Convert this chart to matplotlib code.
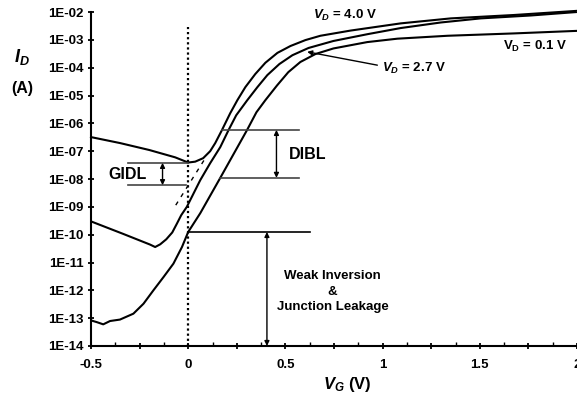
import matplotlib
matplotlib.use("Agg")
import matplotlib.pyplot as plt

plt.rcParams['font.family'] = ['Liberation Sans', 'DejaVu Sans']
plt.rcParams['font.weight'] = 'bold'
plt.rcParams['mathtext.fontset'] = 'custom'
plt.rcParams['mathtext.rm'] = 'Liberation Sans:bold'
plt.rcParams['mathtext.it'] = 'Liberation Sans:italic:bold'
plt.rcParams['mathtext.bf'] = 'Liberation Sans:bold'

# Id-Vg curves
vg_40 = [-0.50, -0.35, -0.20, -0.067, 0.0, 0.036, 0.077, 0.113, 0.139, 0.174,
         0.216, 0.253, 0.294, 0.345, 0.397, 0.459, 0.526, 0.603, 0.680, 0.835,
         1.093, 1.351, 1.675, 2.0]
id_40 = [3.2e-7, 1.95e-7, 1.1e-7, 6.0e-8, 3.9e-8, 4.2e-8, 5.6e-8, 1.0e-7, 1.95e-7, 5.8e-7,
         2.3e-6, 6.8e-6, 2.0e-5, 5.9e-5, 1.5e-4, 3.4e-4, 6.0e-4, 9.8e-4, 1.4e-3, 2.15e-3,
         3.9e-3, 5.9e-3, 7.8e-3, 1.1e-2]

vg_27 = [-0.50, -0.335, -0.196, -0.17, -0.144, -0.113, -0.082, -0.058, -0.036, -0.007,
         0.062, 0.113, 0.165, 0.208, 0.247, 0.304, 0.356, 0.407, 0.469, 0.536,
         0.619, 0.747, 0.923, 1.093, 1.299, 1.505, 1.763, 2.0]
id_27 = [3.0e-10, 1.07e-10, 4.4e-11, 3.6e-11, 4.5e-11, 6.8e-11, 1.2e-10, 2.5e-10, 5.0e-10, 1.0e-9,
         9.1e-9, 3.7e-8, 1.4e-7, 5.8e-7, 1.95e-6, 6.8e-6, 2.0e-5, 5.4e-5, 1.35e-4, 2.8e-4,
         5.1e-4, 9.1e-4, 1.6e-3, 2.65e-3, 4.2e-3, 5.9e-3, 7.5e-3, 1.0e-2]

vg_01 = [-0.50, -0.47, -0.437, -0.402, -0.351, -0.282, -0.23, -0.179, -0.127, -0.076,
         -0.032, 0.0, 0.062, 0.165, 0.303, 0.351, 0.397, 0.457, 0.515, 0.577,
         0.655, 0.747, 0.921, 1.076, 1.334, 1.675, 2.0]
id_01 = [8.3e-14, 7.2e-14, 6.0e-14, 7.9e-14, 8.9e-14, 1.45e-13, 3.3e-13, 1.0e-12, 3.0e-12, 9.1e-12,
         3.6e-11, 1.25e-10, 5.9e-10, 1.1e-8, 5.8e-7, 2.5e-6, 6.8e-6, 2.3e-5, 6.9e-5, 1.6e-4,
         3.1e-4, 4.9e-4, 8.3e-4, 1.1e-3, 1.4e-3, 1.7e-3, 2.1e-3]

# extrapolated subthreshold line (dashed)
vg_ext = [-0.064, 0.082]
id_ext = [1.15e-9, 4.8e-8]

x_ticks = [-0.5, -0.25, 0, 0.25, 0.5, 0.75, 1.0, 1.25, 1.5, 1.75, 2.0]
x_labels = ['-0.5', '', '0', '', '0.5', '', '1', '', '1.5', '', '2']
y_exps = list(range(-14, -1))
y_labels = ['1E-%02d' % (-e) for e in y_exps]

fig = plt.figure(figsize=(5.77, 4.03), dpi=100)
ax = fig.add_axes([91 / 577, 57 / 403, 486 / 577, 334 / 403])

ax.plot(vg_40, id_40, color='black', lw=1.5, clip_on=False)
ax.plot(vg_27, id_27, color='black', lw=1.5)
ax.plot(vg_01, id_01, color='black', lw=1.5)
ax.plot(vg_ext, id_ext, color='black', lw=1.0, ls=(0, (3, 4)))

ax.set_yscale('log')
ax.set_xlim(-0.5, 2.0)
ax.set_ylim(1e-14, 1e-2)

ax.spines['top'].set_visible(False)
ax.spines['right'].set_visible(False)
for s in ['left', 'bottom']:
    ax.spines[s].set_linewidth(1.5)

ax.set_yticks([10.0 ** e for e in y_exps])
ax.set_yticklabels(y_labels)
ax.yaxis.set_minor_locator(matplotlib.ticker.NullLocator())
ax.set_xticks(x_ticks)
ax.set_xticklabels(x_labels)
ax.set_xticks([-0.375, -0.125, 0.125, 0.375, 0.625, 0.875, 1.125, 1.375, 1.625, 1.875], minor=True)
ax.tick_params(axis='both', which='major', direction='inout', length=5, width=1.3,
               labelsize=9.5)
ax.tick_params(axis='y', which='major', pad=3)
ax.tick_params(axis='x', which='major', pad=7)
ax.tick_params(axis='x', which='minor', direction='in', length=3, width=1.0)
for lab in ax.get_xticklabels() + ax.get_yticklabels():
    lab.set_fontweight('bold')

# vertical dotted line at VG = 0
ax.plot([0, 0], [1e-14, 2.9e-3], color='black', lw=1.6, ls=(0, (1, 1.3)))

gray = '#444444'
arr = dict(arrowstyle='<|-|>', color='black', lw=1.0, mutation_scale=7, shrinkA=0, shrinkB=0)

# GIDL
ax.plot([-0.31, 0.0], [3.8e-8, 3.8e-8], color=gray, lw=1.2)
ax.plot([-0.31, -0.01], [6.0e-9, 6.0e-9], color=gray, lw=1.2)
ax.annotate('', xy=(-0.132, 3.8e-8), xytext=(-0.132, 6.0e-9), arrowprops=arr)
ax.text(-0.31, 1.5e-8, 'GIDL', fontsize=11.5, fontweight='bold', ha='center', va='center')

# DIBL
ax.plot([0.174, 0.569], [5.8e-7, 5.8e-7], color=gray, lw=1.2)
ax.plot([0.165, 0.569], [1.1e-8, 1.1e-8], color=gray, lw=1.2)
ax.annotate('', xy=(0.454, 5.8e-7), xytext=(0.454, 1.1e-8), arrowprops=arr)
ax.text(0.615, 7.6e-8, 'DIBL', fontsize=11.5, fontweight='bold', ha='center', va='center')

# weak inversion / junction leakage
ax.plot([0.0, 0.629], [1.25e-10, 1.25e-10], color='black', lw=1.2)
ax.annotate('', xy=(0.405, 1.25e-10), xytext=(0.405, 1e-14), arrowprops=arr)
ax.text(0.742, 9e-13, 'Weak Inversion\n&\nJunction Leakage', fontsize=9.5,
        fontweight='bold', ha='center', va='center', linespacing=1.4)

# curve labels
ax.text(0.804, 7.8e-3, r'$V_D$ = 4.0 V', fontsize=9.5, fontweight='bold', ha='center', va='center')
ax.text(1.784, 5.6e-4, r'$\mathbf{V}_\mathbf{D}$ = 0.1 V', fontsize=9.5, fontweight='bold',
        ha='center', va='center')
ax.text(1.16, 9.3e-5, r'$V_D$ = 2.7 V', fontsize=9.5, fontweight='bold', ha='center', va='center')
ax.annotate('', xy=(0.612, 3.7e-4), xytext=(0.973, 1.23e-4),
            arrowprops=dict(arrowstyle='-|>', color='black', lw=1.0, mutation_scale=7,
                            shrinkA=0, shrinkB=0))

# axis labels
fig.text(22 / 577, 1 - 57 / 403, r'$I_D$', fontsize=13, ha='center', va='center')
fig.text(22 / 577, 1 - 89 / 403, '(A)', fontsize=11.5, fontweight='bold', ha='center', va='center')
fig.text(347 / 577, 1 - 384 / 403, r'$V_G$ (V)', fontsize=12, fontweight='bold',
         ha='center', va='center')

fig.savefig('out.png', dpi=100)
